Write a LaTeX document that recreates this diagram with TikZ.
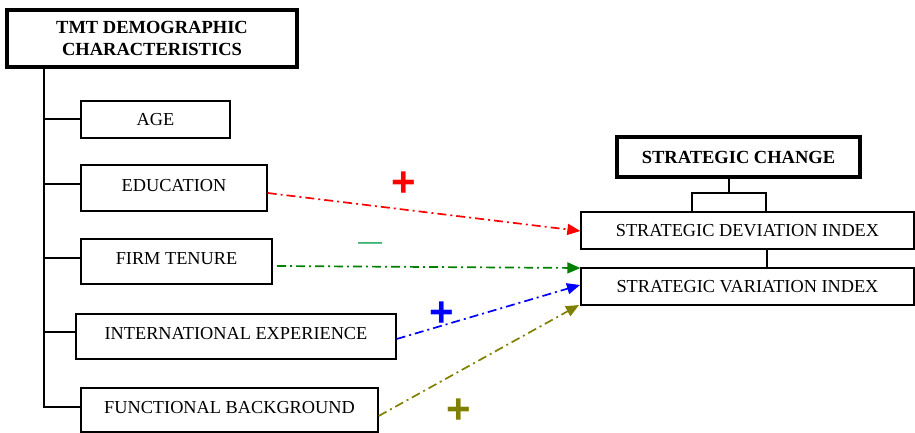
\documentclass[tikz,border=0pt]{standalone}
\usepackage{fontspec}
\setmainfont{Liberation Serif}
\newfontfamily\signfont{Liberation Sans}
\usetikzlibrary{arrows.meta}
\definecolor{signgreen}{RGB}{40,168,100}
\definecolor{myolive}{RGB}{128,128,0}
\definecolor{mygreen}{RGB}{0,128,0}
\tikzset{
  x=1pt,y=-1pt,
  item/.style={draw,line width=1.3pt,inner sep=0pt,font=\fontsize{18.3}{20}\selectfont},
  raised/.style={text height=12.5pt,text depth=6pt},
  headbox/.style={draw,line width=4pt,inner sep=0pt,font=\fontsize{18.5}{21.5}\selectfont\bfseries,align=center},
  tree/.style={line width=1.3pt},
  rel/.style={line width=1.7pt,dash pattern=on 9pt off 4pt on 2pt off 4pt,-{Triangle[length=13pt,width=11pt]}},
  plussign/.style={font=\fontsize{42}{42}\selectfont\signfont\bfseries,inner sep=0pt},
}
\begin{document}
\begin{tikzpicture}
\useasboundingbox (0,0) rectangle (915,433);
% left group
\node[headbox,minimum width=290pt,minimum height=57pt] (tmt) at (152,38.5) {TMT DEMOGRAPHIC\\CHARACTERISTICS};
\node[item,minimum width=149pt,minimum height=37pt] (age) at (155.5,119.5) {AGE};
\node[item,raised,minimum width=186pt,minimum height=46pt] (edu) at (174,188) {EDUCATION};
\node[item,raised,minimum width=191pt,minimum height=45pt] (ten) at (176.5,261.5) {FIRM TENURE};
\node[item,raised,minimum width=320pt,minimum height=45pt] (intl) at (236,336.5) {INTERNATIONAL EXPERIENCE};
\node[item,raised,minimum width=297pt,minimum height=44pt] (func) at (229.5,410) {FUNCTIONAL BACKGROUND};
\coordinate (trunkTop) at (44,67);
\coordinate (trunkBot) at (44,407);
\draw[tree] (trunkTop) -- (trunkBot) -- (func.west |- trunkBot);
\draw[tree] (44,119) -- (age.west |- 0,119);
\draw[tree] (44,184) -- (edu.west |- 0,184);
\draw[tree] (44,258) -- (ten.west |- 0,258);
\draw[tree] (44,332) -- (intl.west |- 0,332);
% right group
\node[headbox,minimum width=243pt,minimum height=40pt] (sc) at (738.5,157) {STRATEGIC CHANGE};
\node[item,minimum width=333pt,minimum height=37pt] (sdi) at (747.5,230.5) {STRATEGIC DEVIATION INDEX};
\node[item,minimum width=333pt,minimum height=37pt] (svi) at (747.5,286.5) {STRATEGIC VARIATION INDEX};
\coordinate (fork) at (729,193);
\draw[tree] (sc.south -| fork) -- (fork);
\draw[tree] (692,212) -- (692,193) -- (766,193) -- (766,212);
\draw[tree] (sdi.south -| 767,0) -- (svi.north -| 767,0);
% relations
\draw[rel,red] (edu.east |- 0,193) -- (sdi.west |- 0,231);
\draw[rel,mygreen] (277,266) -- (svi.west |- 0,268);
\draw[rel,blue] (intl.east |- 0,339) -- (580,285);
\draw[rel,myolive] (func.east |- 0,416) -- (579,305);
% signs
\node[plussign,text=red] (p1) at (404,184) {+};
\node[font=\fontsize{24}{24}\selectfont\signfont,text=signgreen,inner sep=0pt] (m1) at (370,246) {—};
\node[plussign,text=blue] (p2) at (442,314) {+};
\node[plussign,text=myolive] (p3) at (459,411) {+};
\end{tikzpicture}
\end{document}
